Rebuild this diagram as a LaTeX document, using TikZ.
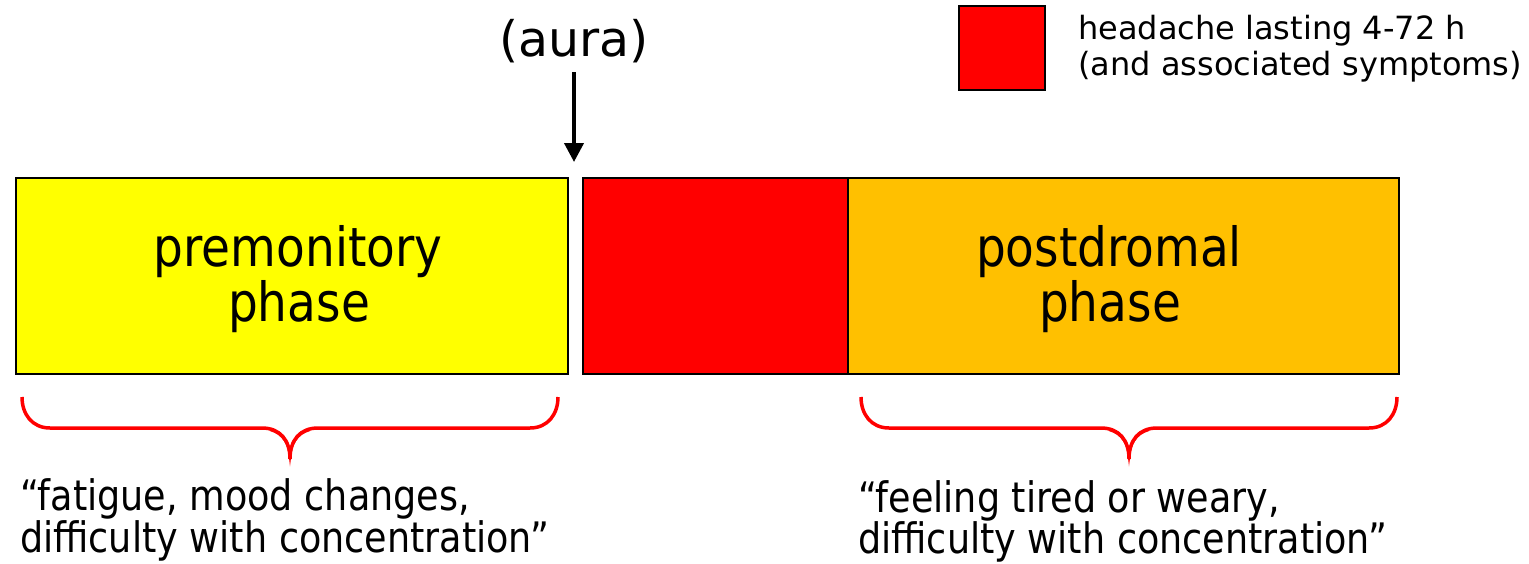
\documentclass[tikz,border=0pt]{standalone}
\usepackage{fontspec}
\setmainfont[FakeStretch=0.87]{DejaVu Sans}
\newfontfamily\widefont{DejaVu Sans}
\usetikzlibrary{arrows.meta}
\definecolor{phaseyellow}{HTML}{FFFF00}
\definecolor{phasered}{HTML}{FF0000}
\definecolor{phaseorange}{HTML}{FFC000}
\begin{document}
\begin{tikzpicture}[x=1pt,y=-1pt,
  phasebox/.style={draw=black,line width=2pt,minimum height=196pt,inner sep=0pt,anchor=north west},
  bigtext/.style={font=\fontsize{54}{60}\selectfont,inner sep=0pt,anchor=base},
  quotetext/.style={font=\fontsize{42}{48}\selectfont,inner sep=0pt,anchor=base west},
  legendtext/.style={font=\widefont\fontsize{32}{38}\selectfont,inner sep=0pt,anchor=base west},
  auratext/.style={font=\widefont\fontsize{49}{56}\selectfont,inner sep=0pt,anchor=base},
  bracestroke/.style={draw=phasered,line width=3.5pt},
  pics/curlybrace/.style={code={
    \draw[bracestroke] (-#1,0) .. controls (-#1,17) and (-#1+10,31) .. (-#1+28,31)
      -- (-28,31) .. controls (-10,31) and (0,43) .. (0,62)
      .. controls (0,43) and (10,31) .. (28,31)
      -- (#1-28,31) .. controls (#1-10,31) and (#1,17) .. (#1,0);
    \draw[bracestroke,line width=2pt] (-20,33) .. controls (-6,37) and (-1,48) .. (0,61)
      .. controls (1,48) and (6,37) .. (20,33);
  }}
]
\useasboundingbox[fill=white] (0,0) rectangle (1529,563);

% phase boxes
\node[phasebox,fill=phaseyellow,minimum width=552pt] (pre) at (15,177) {};
\node[phasebox,fill=phasered,minimum width=265pt] (head) at (582,177) {};
\node[phasebox,fill=phaseorange,minimum width=551pt] (post) at (847,177) {};

\node[bigtext] (pre1) at (298,266) {premonitory};
\node[bigtext] (pre2) at (299,321) {phase};
\node[bigtext] (post1) at (1109,266) {postdromal};
\node[bigtext] (post2) at (1110,321) {phase};

% aura
\node[auratext] (aura) at (574,56) {(aura)};
\coordinate (tail) at (574,72);
\coordinate (tip) at (574,162);
\draw[-{Triangle[width=19pt,length=19pt]},line width=4pt] (tail) -- (tip);

% legend
\node[draw=black,line width=2pt,fill=phasered,minimum width=86pt,minimum height=84pt,inner sep=0pt] (legbox) at (1002,48) {};
\node[legendtext] (leg1) at (1078,39) {headache lasting 4-72 h};
\node[legendtext] (leg2) at (1078,75) {(and associated symptoms)};

% braces
\pic at (290,397) {curlybrace=268};
\pic at (1129,397) {curlybrace=268};

% quotes
\node[quotetext] (q1a) at (20,510) {“fatigue, mood changes,};
\node[quotetext] (q1b) at (20,552) {difficulty with concentration”};
\node[quotetext] (q2a) at (858,512) {“feeling tired or weary,};
\node[quotetext] (q2b) at (858,553) {difficulty with concentration”};
\end{tikzpicture}
\end{document}
